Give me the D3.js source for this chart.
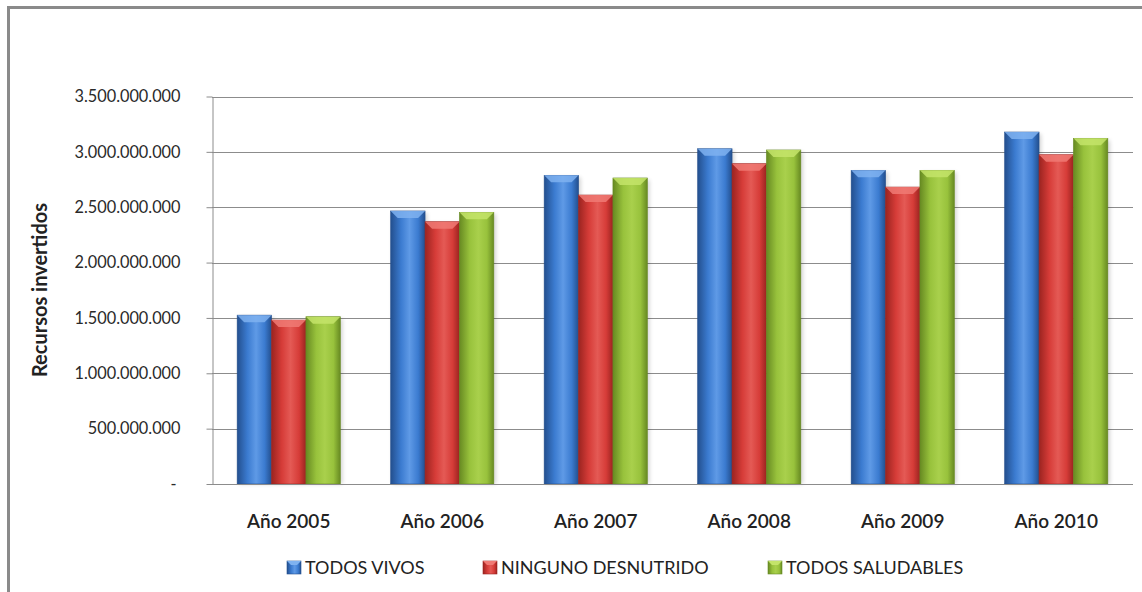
<!DOCTYPE html>
<html><head><meta charset="utf-8">
<script src="https://cdn.jsdelivr.net/npm/d3@7"></script>
<style>html,body{margin:0;padding:0;background:#fff;}svg{display:block;}</style>
</head><body>
<svg id="chart" width="1142" height="592"></svg>
<script>
const categories = ["Año 2005","Año 2006","Año 2007","Año 2008","Año 2009","Año 2010"];
const seriesNames = ["TODOS VIVOS","NINGUNO DESNUTRIDO","TODOS SALUDABLES"];
const todosVivos = [1525000000, 2466000000, 2788000000, 3028000000, 2833000000, 3179000000];
const ningunoDesnutrido = [1481000000, 2369000000, 2610000000, 2893000000, 2682000000, 2974000000];
const todosSaludables = [1511000000, 2454000000, 2764000000, 3017000000, 2833000000, 3122000000];
const yTicks = [0, 500000000, 1000000000, 1500000000, 2000000000, 2500000000, 3000000000, 3500000000];
const yTitle = "Recursos invertidos";

const seriesValues = [todosVivos, ningunoDesnutrido, todosSaludables];
const palette = [
  {dark:"#234f8e", mid:"#3b7bd0", light:"#5f9ae6", top:"#7fb2f0"},
  {dark:"#9b2420", mid:"#d63c38", light:"#e45a55", top:"#f07a74"},
  {dark:"#678a22", mid:"#98c23c", light:"#a9d04c", top:"#c4e46a"}
];

const svg = d3.select("#chart");
const font = "Lato, 'Open Sans', sans-serif";

// outer frame
svg.append("rect").attr("x",8.5).attr("y",7.5).attr("width",1150).attr("height",600)
  .attr("fill","none").attr("stroke","#8a8a8a").attr("stroke-width",3);

const pLeft = 212, pRight = 1133, pTop = 96.5, pBottom = 484;
const y = d3.scaleLinear().domain([0, 3500000000]).range([pBottom, pTop]);
const x0 = d3.scaleBand().domain(categories).range([pLeft, pRight]).paddingInner(0).paddingOuter(0);
const groupW = x0.bandwidth() * 0.672;
const x1 = d3.scaleBand().domain(seriesNames).range([0, groupW]).padding(0);

const defs = svg.append("defs");
palette.forEach((p,i)=>{
  const g = defs.append("linearGradient").attr("id","grad"+i).attr("x1","0").attr("x2","1").attr("y1","0").attr("y2","0");
  g.append("stop").attr("offset","0%").attr("stop-color",p.dark);
  g.append("stop").attr("offset","30%").attr("stop-color",p.mid);
  g.append("stop").attr("offset","55%").attr("stop-color",p.light);
  g.append("stop").attr("offset","80%").attr("stop-color",p.mid);
  g.append("stop").attr("offset","100%").attr("stop-color",p.dark);
});
const sh = defs.append("filter").attr("id","shadow").attr("x","-20%").attr("y","-20%").attr("width","150%").attr("height","150%");
sh.append("feGaussianBlur").attr("stdDeviation",2);

// gridlines
svg.append("g").selectAll("line").data(yTicks.slice(1)).join("line")
  .attr("x1",pLeft).attr("x2",pRight).attr("y1",d=>Math.round(y(d))+0.5).attr("y2",d=>Math.round(y(d))+0.5)
  .attr("stroke","#8c8c8c").attr("stroke-width",1);

// y axis
const yAxis = d3.axisLeft(y).tickValues(yTicks).tickSize(6).tickSizeOuter(0)
  .tickFormat(d => d===0 ? "-" : d3.format(",")(d).replace(/,/g,"."));
const ga = svg.append("g").attr("transform",`translate(${pLeft+0.5},0)`).call(yAxis);
ga.select(".domain").attr("stroke","#8c8c8c");
ga.selectAll(".tick line").attr("stroke","#8c8c8c");
ga.selectAll(".tick text").attr("x",-32).attr("fill","#2a2a2a").style("font-family",font).style("font-size","16.3px");
ga.selectAll(".tick").filter(d=>d===0).select("text").attr("x",-36);

// bars
const groups = svg.append("g").selectAll("g").data(categories).join("g")
  .attr("transform",d=>`translate(${x0(d) + (x0.bandwidth()-groupW)/2},0)`);
seriesNames.forEach((s,si)=>{
  const bw = x1.bandwidth();
  groups.append("rect").attr("x",x1(s)+2).attr("y",(d,i)=>y(seriesValues[si][i])+2)
    .attr("width",bw).attr("height",(d,i)=>pBottom - y(seriesValues[si][i]) - 2)
    .attr("fill","#000").attr("opacity",0.18).attr("filter","url(#shadow)");
});
seriesNames.forEach((s,si)=>{
  const bw = x1.bandwidth();
  groups.append("rect").attr("x",x1(s)).attr("y",(d,i)=>y(seriesValues[si][i]))
    .attr("width",bw).attr("height",(d,i)=>pBottom - y(seriesValues[si][i]))
    .attr("fill",`url(#grad${si})`).attr("stroke",palette[si].dark).attr("stroke-width",0.6);
  groups.append("path").attr("d",(d,i)=>{
      const yt = y(seriesValues[si][i]), xs = x1(s), b = 7;
      return `M${xs},${yt}L${xs+bw},${yt}L${xs+bw-b},${yt+b}L${xs+b},${yt+b}Z`;
    }).attr("fill",palette[si].top).attr("opacity",0.85);
});

// x axis line
svg.append("line").attr("x1",pLeft).attr("x2",pRight).attr("y1",pBottom+0.5).attr("y2",pBottom+0.5).attr("stroke","#8c8c8c");

// category labels
svg.append("g").selectAll("text").data(categories).join("text")
  .attr("x",d=>x0(d)+x0.bandwidth()/2).attr("y",528).attr("text-anchor","middle")
  .attr("fill","#222").style("font-family",font).style("font-size","19px").style("font-weight","600").text(d=>d);

// y title
svg.append("text").attr("transform","translate(47,290) rotate(-90)").attr("text-anchor","middle")
  .attr("fill","#222").style("font-family",font).style("font-size","20px").style("font-weight","bold").text(yTitle);

// legend
const legendX = [287, 483, 768];
const lg = svg.append("g").selectAll("g").data(seriesNames).join("g")
  .attr("transform",(d,i)=>`translate(${legendX[i]},561)`);
lg.append("rect").attr("width",14).attr("height",13).attr("fill",(d,i)=>`url(#grad${i})`).attr("stroke",(d,i)=>palette[i].dark).attr("stroke-width",0.6);
lg.append("path").attr("d","M0,0L14,0L10,4L4,4Z").attr("fill",(d,i)=>palette[i].top);
lg.append("text").attr("x",18).attr("y",13).attr("fill","#222")
  .style("font-family",font).style("font-size","18px").text(d=>d);
</script>
</body></html>
